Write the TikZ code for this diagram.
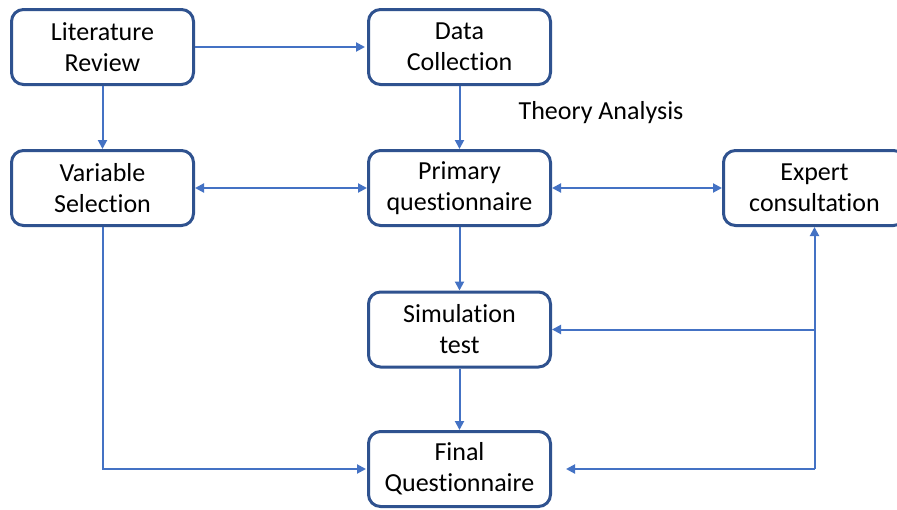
\documentclass[tikz,border=0pt]{standalone}
\usepackage{fontspec}
\setmainfont{Carlito}[Ligatures=NoCommon]
\usetikzlibrary{arrows.meta}
\definecolor{boxline}{HTML}{2F528F}
\definecolor{linkline}{HTML}{4472C4}
\tikzset{
  stagebox/.style={draw=boxline, line width=3pt, rounded corners=12pt, fill=white,
    minimum width=182pt, minimum height=75pt, align=center, text=black,
    font=\fontsize{26}{31}\selectfont},
  link/.style={draw=linkline, line width=2pt, -{Triangle[length=9pt,width=9pt]}},
  twoway/.style={draw=linkline, line width=2pt, {Triangle[length=9pt,width=9pt]}-{Triangle[length=9pt,width=9pt]}},
  note/.style={font=\fontsize{26}{31}\selectfont, text=black}
}
\begin{document}
\begin{tikzpicture}[x=1pt, y=-1pt]
  \useasboundingbox (0,0) rectangle (897,509);
  \clip (0,0) rectangle (897,509);
  \fill[white] (0,0) rectangle (897,509);

  % stages of the questionnaire design
  \node[stagebox] (lit)  at (102.5,47)  {Literature\\Review};
  \node[stagebox] (data) at (459.5,47)  {Data\\Collection};
  \node[stagebox] (var)  at (102.5,188) {Variable\\Selection};
  \node[stagebox] (prim) at (459.5,188) {Primary\\questionnaire};
  \node[stagebox] (exp)  at (814.5,188) {Expert\\consultation};
  \node[stagebox] (sim)  at (459.5,329.5) {Simulation\\test};
  \node[stagebox] (fin)  at (459.5,469) {Final\\Questionnaire};

  \node[note] (theory) at (601,113) {Theory Analysis};

  % flow between stages
  \draw[link, shorten >=2pt] (lit) -- (data);
  \draw[link] (lit) -- (var);
  \draw[link] (data) -- (prim);
  \draw[twoway] (var) -- (prim);
  \draw[twoway] (prim) -- (exp);
  \draw[link] (prim) -- (sim);
  \draw[link] (sim) -- (fin);
  \draw[link, shorten >=1pt] (var.south) |- (fin.west);

  % feedback from the experts
  \coordinate (ex1) at (exp.south |- sim);
  \coordinate (ex2) at (exp.south |- fin);
  \draw[link] (ex2) -- (exp.south);
  \draw[link] (ex1) -- (sim);
  \draw[link, shorten >=14pt] (ex2) -- (fin);
\end{tikzpicture}
\end{document}
